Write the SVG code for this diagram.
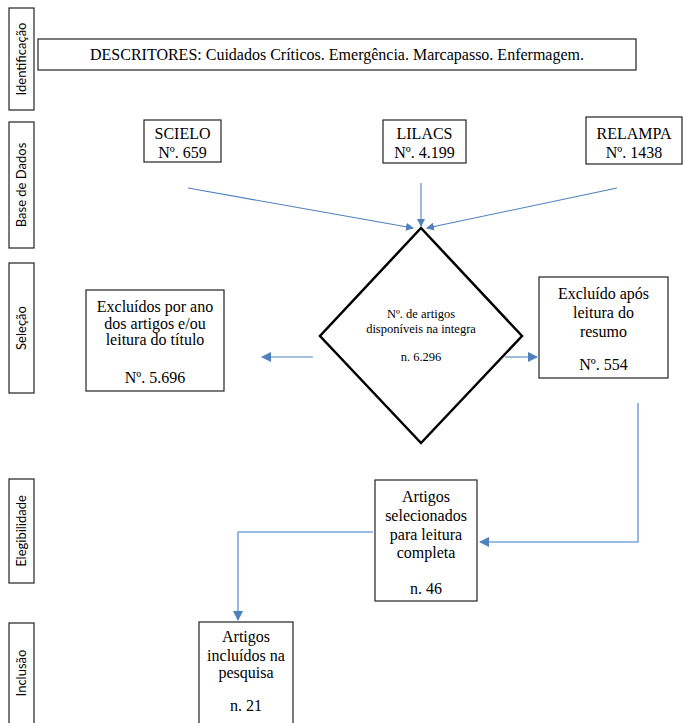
<svg xmlns="http://www.w3.org/2000/svg" width="683" height="723" viewBox="0 0 683 723">
<style>
.box{fill:#fff;stroke:#222;stroke-width:1.2}
.lab{font-family:Lato,"Open Sans",sans-serif;font-size:13px;fill:#000;text-anchor:middle}
.tx{font-family:"Liberation Serif","DejaVu Serif",serif;font-size:16px;fill:#000;text-anchor:middle}
.txs{font-family:"Liberation Serif","DejaVu Serif",serif;font-size:12.5px;fill:#000;text-anchor:middle}
.c{fill:none;stroke:#4f81bd;stroke-width:1.1}
.cl{fill:none;stroke:#7ea6d8;stroke-width:1.6}
</style>
<defs>
<marker id="ah" markerWidth="8" markerHeight="8" refX="7" refY="4" orient="auto" markerUnits="userSpaceOnUse"><path d="M0,0 L8,4 L0,8 z" fill="#4f81bd"/></marker>
<marker id="ah2" markerWidth="10" markerHeight="10" refX="9" refY="5" orient="auto" markerUnits="userSpaceOnUse"><path d="M0,0 L10,5 L0,10 z" fill="#4f81bd"/></marker>
</defs>
<g id="lab-identificacao"><rect class="box" x="9" y="8" width="25" height="102"/><text class="lab" transform="translate(26,59) rotate(-90)">Identificação</text></g>
<g id="lab-base"><rect class="box" x="9" y="122" width="25" height="126"/><text class="lab" transform="translate(26,185) rotate(-90)">Base de Dados</text></g>
<g id="lab-selecao"><rect class="box" x="9" y="263" width="25" height="130"/><text class="lab" transform="translate(26,328) rotate(-90)">Seleção</text></g>
<g id="lab-eleg"><rect class="box" x="9" y="479" width="25" height="104"/><text class="lab" transform="translate(26,531) rotate(-90)">Elegibilidade</text></g>
<g id="lab-inclusao"><rect class="box" x="9" y="623" width="25" height="110"/><text class="lab" transform="translate(26,673) rotate(-90)">Inclusão</text></g>
<g id="descritores"><rect class="box" x="38" y="39" width="598" height="31"/><text class="tx" x="337" y="60">DESCRITORES: Cuidados Críticos. Emergência. Marcapasso. Enfermagem.</text></g>
<g id="scielo"><rect class="box" x="144" y="120" width="77" height="42"/><text class="tx" x="182.5" y="139">SCIELO</text><text class="tx" x="182.5" y="158">Nº. 659</text></g>
<g id="lilacs"><rect class="box" x="383" y="120" width="83" height="43"/><text class="tx" x="424.5" y="139">LILACS</text><text class="tx" x="424.5" y="158">Nº. 4.199</text></g>
<g id="relampa"><rect class="box" x="586" y="117" width="96" height="47"/><text class="tx" x="634" y="139">RELAMPA</text><text class="tx" x="634" y="158">Nº. 1438</text></g>
<g id="disponiveis"><polygon points="421,228 522,336 421,443 320,336" fill="#fff" stroke="#000" stroke-width="2.5"/><text class="txs" x="421" y="318">Nº. de artigos</text><text class="txs" x="421" y="333">disponíveis na integra</text><text class="txs" x="421" y="361">n. 6.296</text></g>
<g id="excluidos-ano"><rect class="box" x="86" y="290" width="138" height="101"/><text class="tx" x="155" y="312">Excluídos por ano</text><text class="tx" x="155" y="329">dos artigos e/ou</text><text class="tx" x="155" y="345">leitura do título</text><text class="tx" x="155" y="383">Nº. 5.696</text></g>
<g id="excluido-resumo"><rect class="box" x="539" y="277" width="129" height="101"/><text class="tx" x="603.5" y="299">Excluído após</text><text class="tx" x="603.5" y="318">leitura do</text><text class="tx" x="603.5" y="337">resumo</text><text class="tx" x="603.5" y="370">Nº. 554</text></g>
<g id="selecionados"><rect class="box" x="375" y="480" width="102" height="121"/><text class="tx" x="426" y="502">Artigos</text><text class="tx" x="426" y="521">selecionados</text><text class="tx" x="426" y="540">para leitura</text><text class="tx" x="426" y="558">completa</text><text class="tx" x="426" y="594">n. 46</text></g>
<g id="incluidos"><rect class="box" x="199" y="622" width="94" height="110"/><text class="tx" x="246" y="642">Artigos</text><text class="tx" x="246" y="661">incluídos na</text><text class="tx" x="246" y="678">pesquisa</text><text class="tx" x="246" y="711">n. 21</text></g>
<g id="connectors">
<line class="c" x1="188" y1="188" x2="413" y2="228" marker-end="url(#ah)"/>
<line class="c" x1="421" y1="183" x2="421" y2="226" marker-end="url(#ah)"/>
<line class="c" x1="617" y1="188" x2="427" y2="228" marker-end="url(#ah)"/>
<line class="c" x1="313" y1="357" x2="262" y2="357" marker-end="url(#ah2)"/>
<line class="c" x1="505" y1="357" x2="537" y2="357" marker-end="url(#ah2)"/>
<polyline class="cl" points="638,403 638,542 480,542" marker-end="url(#ah2)"/>
<polyline class="cl" points="373,532 238,532 238,620" marker-end="url(#ah2)"/>
</g>
</svg>
